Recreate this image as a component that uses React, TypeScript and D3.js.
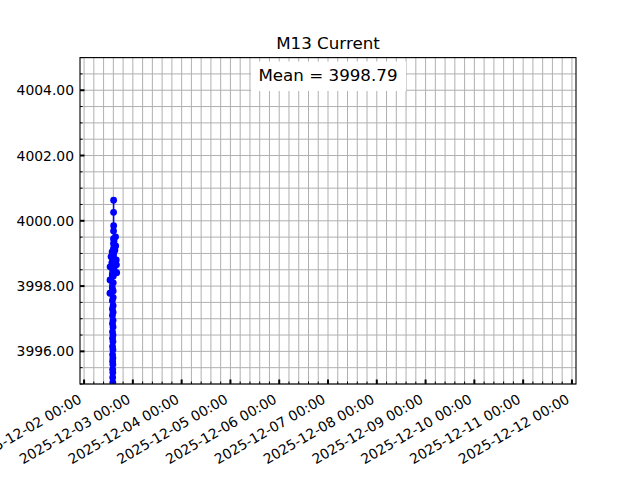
import React from "react";
import * as d3 from "d3";

const TITLE = "M13 Current";
const MEAN_LABEL = "Mean = 3998.79";

// sample timestamps (2025-12-02 local) and current values
const times: string[] = [
  "2025-12-02T12:44", "2025-12-02T12:46", "2025-12-02T12:48", "2025-12-02T13:16",
  "2025-12-02T13:40", "2025-12-02T13:48", "2025-12-02T13:52", "2025-12-02T13:54",
  "2025-12-02T13:55", "2025-12-02T13:56", "2025-12-02T13:57", "2025-12-02T13:58",
  "2025-12-02T13:59", "2025-12-02T14:00", "2025-12-02T14:01", "2025-12-02T14:02",
  "2025-12-02T14:03", "2025-12-02T14:04", "2025-12-02T14:05", "2025-12-02T14:06",
  "2025-12-02T14:07", "2025-12-02T14:08", "2025-12-02T14:09", "2025-12-02T14:10",
  "2025-12-02T14:11", "2025-12-02T14:12", "2025-12-02T14:13", "2025-12-02T14:14",
  "2025-12-02T14:15", "2025-12-02T14:16", "2025-12-02T14:17", "2025-12-02T14:18",
  "2025-12-02T14:19", "2025-12-02T14:20", "2025-12-02T14:21", "2025-12-02T14:22",
  "2025-12-02T14:23", "2025-12-02T14:24", "2025-12-02T14:25", "2025-12-02T14:26",
  "2025-12-02T14:27", "2025-12-02T14:28", "2025-12-02T14:29", "2025-12-02T14:30",
  "2025-12-02T14:31", "2025-12-02T14:32", "2025-12-02T14:33", "2025-12-02T14:45",
  "2025-12-02T15:10", "2025-12-02T15:30", "2025-12-02T15:34", "2025-12-02T15:50",
  "2025-12-02T15:56", "2025-12-02T16:03",
];
const values: number[] = [
  3997.78, 3998.19, 3998.59, 3998.90,
  3998.72, 3999.05, 3998.35, 3997.95,
  3997.55, 3997.30, 3997.10, 3996.85,
  3996.60, 3996.40, 3996.15, 3995.90,
  3995.70, 3995.45, 3995.20, 3994.95,
  3994.70, 3995.05, 3995.35, 3995.60,
  3995.80, 3996.05, 3996.30, 3996.50,
  3996.75, 3996.95, 3997.20, 3997.40,
  3997.65, 3997.85, 3998.10, 3998.30,
  3998.50, 3998.70, 3998.85, 3999.00,
  3999.15, 3999.30, 3999.45, 3999.69,
  4000.26, 4000.63, 3999.85, 3999.38,
  3999.10, 3999.51, 3999.23, 3998.80,
  3998.65, 3998.41,
];

const X_START = "2025-12-01T22:00";
const X_END = "2025-12-12T02:00";
const Y_MIN = 3995;
const Y_MAX = 4005;
const yMajorTicks = [3996, 3998, 4000, 4002, 4004];

const W = 640, H = 480;
const L = 80, R = 576, T = 57.6, B = 384;
const FONT = "DejaVu Sans, sans-serif";

export default function App() {
  const parse = (s: string) => new Date(s);
  const x = d3.scaleTime().domain([parse(X_START), parse(X_END)]).range([L, R]);
  const y = d3.scaleLinear().domain([Y_MIN, Y_MAX]).range([B, T]);

  const majorX = d3.timeDay.range(parse("2025-12-02T00:00"), d3.timeHour.offset(parse("2025-12-12T00:00"), 1));
  const minorX: Date[] = [];
  const x0 = x.domain()[0].getTime(), x1 = x.domain()[1].getTime();
  const dayMs = 86400000;
  const base = parse("2025-12-02T00:00").getTime();
  for (let k = -1; k <= 55; k++) {
    const t = base + (k * dayMs) / 5;
    if (t >= x0 && t <= x1 && k % 5 !== 0) minorX.push(new Date(t));
  }
  const minorY: number[] = [];
  for (let v = Y_MIN; v <= Y_MAX + 1e-9; v += 0.5) {
    if (!yMajorTicks.includes(v)) minorY.push(v);
  }
  const fmt = d3.timeFormat("%Y-%m-%d %H:%M");

  const data = times.map((t, i) => ({ t: parse(t), v: values[i] }));
  const line = d3.line<{ t: Date; v: number }>().x((d) => x(d.t)).y((d) => y(d.v));

  const grid = "#b0b0b0";
  return (
    <svg width={W} height={H} style={{ display: "block", position: "absolute", left: 0, top: 0 }} fontFamily={FONT}>
      <rect x={0} y={0} width={W} height={H} fill="white" />
      <defs>
        <clipPath id="plotclip">
          <rect x={L} y={T} width={R - L} height={B - T} />
        </clipPath>
      </defs>
      {/* grid */}
      <g stroke={grid} strokeWidth={1}>
        {minorX.concat(majorX).map((d, i) => (
          <line key={"gx" + i} x1={x(d)} x2={x(d)} y1={T} y2={B} />
        ))}
        {minorY.concat(yMajorTicks).map((v, i) => (
          <line key={"gy" + i} x1={L} x2={R} y1={y(v)} y2={y(v)} />
        ))}
      </g>
      {/* data */}
      <g clipPath="url(#plotclip)">
        <path d={line(data) || ""} fill="none" stroke="#0000ff" strokeWidth={1.5} />
        {data.map((d, i) => (
          <circle key={i} cx={x(d.t)} cy={y(d.v)} r={3.4} fill="#0000ff" />
        ))}
      </g>
      {/* mean box */}
      <rect x={251} y={61.5} width={155} height={29.5} fill="white" />
      <text x={(L + R) / 2} y={80.5} textAnchor="middle" fontSize={16.7} fill="#000">
        {MEAN_LABEL}
      </text>
      {/* ticks */}
      <g stroke="#000">
        {majorX.map((d, i) => (
          <line key={"tx" + i} x1={x(d)} x2={x(d)} y1={B} y2={B - 4.5} strokeWidth={2} />
        ))}
        {minorX.map((d, i) => (
          <line key={"mx" + i} x1={x(d)} x2={x(d)} y1={B} y2={B - 2.5} strokeWidth={1} />
        ))}
        {yMajorTicks.map((v, i) => (
          <line key={"ty" + i} x1={L} x2={L + 4.5} y1={y(v)} y2={y(v)} strokeWidth={2} />
        ))}
        {minorY.map((v, i) => (
          <line key={"my" + i} x1={L} x2={L + 2.5} y1={y(v)} y2={y(v)} strokeWidth={1} />
        ))}
      </g>
      {/* frame */}
      <rect x={L} y={T} width={R - L} height={B - T} fill="none" stroke="#000" strokeWidth={1.1} />
      {/* y labels */}
      {yMajorTicks.map((v, i) => (
        <text key={"ly" + i} x={74} y={y(v)} dy="0.36em" textAnchor="end" fontSize={13.9} fill="#000">
          {v.toFixed(2)}
        </text>
      ))}
      {/* x labels */}
      {majorX.map((d, i) => (
        <text key={"lx" + i} transform={`translate(${x(d) - 1.5},402) rotate(-30)`} textAnchor="end" fontSize={13.9} fill="#000">
          {fmt(d)}
        </text>
      ))}
      <text x={(L + R) / 2} y={49} textAnchor="middle" fontSize={16.7} fill="#000">
        {TITLE}
      </text>
    </svg>
  );
}
